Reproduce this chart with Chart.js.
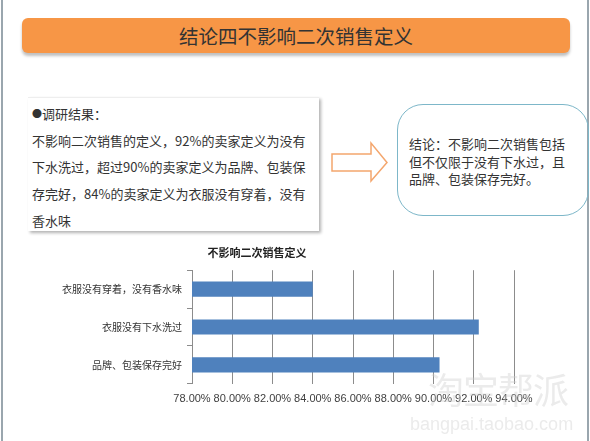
<!DOCTYPE html>
<html>
<head>
<meta charset="utf-8">
<script src="https://cdn.jsdelivr.net/npm/chart.js@4/dist/chart.umd.min.js"></script>
<style>
  html, body { margin: 0; padding: 0; background: #fff; }
  body { width: 590px; height: 441px; position: relative; overflow: hidden;
    font-family: "Noto Sans CJK SC", sans-serif; color: #333; }
  .edge { position: absolute; top: 0; width: 2px; height: 441px; background: #9aa6ae; }
  #banner { position: absolute; left: 22px; top: 18px; width: 548px; height: 35px;
    background: #f79646; border-radius: 6px; box-shadow: 0 3px 3px rgba(0,0,0,0.25);
    text-align: center; line-height: 35px; font-size: 19.5px; color: #333; }
  #survey { position: absolute; left: 28px; top: 97px; width: 291px; height: 134px;
    background: #fff; box-shadow: 2px 2px 3px rgba(0,0,0,0.3); border-top: 1px solid #eee;
    font-size: 13px; line-height: 26.7px; padding: 3px 0 0 4px; box-sizing: border-box; }
  #survey .dot { font-size: 10px; vertical-align: 1px; }
  #conclusion { position: absolute; left: 397px; top: 104px; width: 192px; height: 112px;
    border: 1.5px solid #7db7c9; border-radius: 26px; box-sizing: border-box;
    font-size: 13px; line-height: 17.5px; padding: 30px 0 0 11px; }
  #arrow { position: absolute; left: 328px; top: 140px; }
  #chartBox { position: absolute; left: 0; top: 238px; width: 590px; height: 203px; }
  .wm { position: absolute; color: rgba(205,205,205,0.4); pointer-events: none; white-space: nowrap; }
</style>
</head>
<body>
<div class="edge" style="left:1px"></div>
<div class="edge" style="left:587px"></div>

<div id="banner">结论四不影响二次销售定义</div>

<div id="survey"><span class="dot">●</span>调研结果：<br>不影响二次销售的定义，92%的卖家定义为没有<br>下水洗过，超过90%的卖家定义为品牌、包装保<br>存完好，84%的卖家定义为衣服没有穿着，没有<br>香水味</div>

<svg id="arrow" width="64" height="46">
  <polygon points="4,14 43,14 43,3 59,22.5 43,41 43,31 4,31"
    fill="#fff" stroke="#f4a66d" stroke-width="1.5"/>
</svg>

<div id="conclusion">结论：不影响二次销售包括<br>但不仅限于没有下水过，且<br>品牌、包装保存完好。</div>

<div id="chartBox"><canvas id="myChart"></canvas></div>

<div class="wm" style="left:428px;top:362px;font-size:36px;letter-spacing:-1px;">淘宝帮派</div>
<div class="wm" style="left:410px;top:414px;font-size:18px;font-family:'Liberation Sans';">bangpai.taobao.com</div>

<script>
const ctx = document.getElementById("myChart").getContext("2d");

// categories, top to bottom
const labels = [
  "衣服没有穿着，没有香水味",
  "衣服没有下水洗过",
  "品牌、包装保存完好",
];
// share of sellers, in percent
const values = [84.0, 92.25, 90.3];
// x axis range
const xMin = 78;
const xMax = 94;
const xStep = 2;

const data = {
  labels: labels,
  datasets: [
    {
      label: "不影响二次销售定义",
      data: values,
      backgroundColor: "#4f81bd",
      borderWidth: 0,
      barPercentage: 0.4,
      categoryPercentage: 1,
    },
  ],
};

const config = {
  type: "bar",
  data: data,
  options: {
    indexAxis: "y",
    responsive: true,
    maintainAspectRatio: false,
    animation: false,
    layout: {
      padding: { left: 0, right: 76, top: 0, bottom: 26 },
    },
    plugins: {
      legend: { display: false },
      tooltip: { enabled: false },
      title: {
        display: true,
        text: "不影响二次销售定义",
        color: "#222",
        font: { family: "Noto Sans CJK SC", size: 11, weight: "bold" },
        padding: { top: 8, bottom: 11 },
      },
    },
    scales: {
      x: {
        min: xMin,
        max: xMax,
        ticks: {
          stepSize: xStep,
          color: "#404040",
          padding: 9,
          maxRotation: 0,
          minRotation: 0,
          autoSkip: false,
          font: { family: "Liberation Sans", size: 11 },
          // two decimals plus percent sign
          callback: function (value) {
            return `${value.toFixed(2)}%`;
          },
        },
        grid: { color: "#8c8c8c", drawTicks: false, lineWidth: 1 },
        border: { display: false },
      },
      y: {
        afterFit: function (scale) {
          scale.width = 192;
        },
        ticks: {
          color: "#333",
          padding: 5,
          font: { family: "Noto Sans CJK SC", size: 10 },
        },
        grid: {
          offset: true,
          drawOnChartArea: false,
          drawTicks: true,
          tickLength: 5,
          color: "#8c8c8c",
        },
        border: { display: true, color: "#8c8c8c" },
      },
    },
  },
};

const myChart = new Chart(ctx, config);
</script>
</body>
</html>
